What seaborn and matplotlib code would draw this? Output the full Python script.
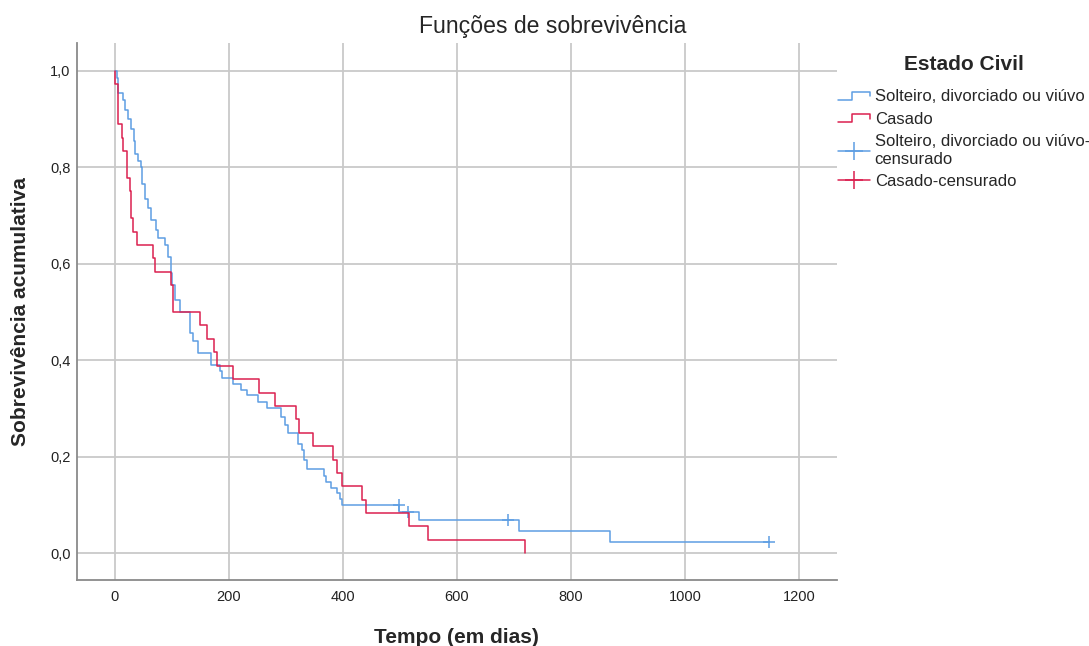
import pandas as pd
import matplotlib
matplotlib.use('Agg')
import matplotlib.pyplot as plt
import seaborn as sns
from matplotlib.lines import Line2D
from matplotlib.legend_handler import HandlerBase

# Curva Kaplan-Meier: Solteiro, divorciado ou viuvo
solteiro_tempo = [0, 3, 6, 15, 18, 23, 29, 33, 35, 40, 46, 48, 53, 58, 63, 72, 76, 88, 94,
                  98, 101, 105, 114, 131, 137, 146, 169, 184, 188, 207, 221, 231, 251, 266,
                  292, 298, 304, 322, 328, 332, 337, 366, 371, 379, 389, 395, 399, 499, 534,
                  708, 868, 1147]
solteiro_sobrev = [1.0, 0.985, 0.955, 0.94, 0.92, 0.90, 0.88, 0.855, 0.827, 0.813, 0.80, 0.766,
                   0.735, 0.715, 0.69, 0.67, 0.653, 0.639, 0.615, 0.58, 0.556, 0.525, 0.5, 0.456,
                   0.44, 0.415, 0.39, 0.378, 0.364, 0.35, 0.338, 0.328, 0.313, 0.30, 0.282, 0.265,
                   0.25, 0.227, 0.213, 0.193, 0.175, 0.16, 0.148, 0.134, 0.124, 0.113, 0.10,
                   0.086, 0.068, 0.046, 0.023, 0.023]
solteiro_cens_tempo = [499, 515, 690, 1147]
solteiro_cens_sobrev = [0.100, 0.086, 0.068, 0.023]

# Casado
casado_tempo = [0, 1, 5, 13, 15, 21, 27, 29, 31, 38, 67, 70, 99, 102, 149, 161, 173, 179, 207,
                253, 281, 317, 323, 347, 383, 390, 399, 433, 440, 516, 550, 720]
casado_sobrev = [1.0, 0.972, 0.889, 0.861, 0.833, 0.778, 0.75, 0.694, 0.667, 0.639, 0.611, 0.583,
                 0.556, 0.5, 0.472, 0.444, 0.417, 0.389, 0.361, 0.333, 0.306, 0.278, 0.25, 0.222,
                 0.194, 0.167, 0.139, 0.111, 0.083, 0.056, 0.028, 0.0]

grupos = ['Solteiro, divorciado ou viúvo', 'Casado']
cores = ['#5E9EE3', '#DB2150']

x_ticks = [0, 200, 400, 600, 800, 1000, 1200]
y_ticks = [0.0, 0.2, 0.4, 0.6, 0.8, 1.0]
y_tick_labels = ['0,0', '0,2', '0,4', '0,6', '0,8', '1,0']

df = pd.concat([
    pd.DataFrame({'tempo': solteiro_tempo, 'sobrev': solteiro_sobrev, 'grupo': grupos[0]}),
    pd.DataFrame({'tempo': casado_tempo, 'sobrev': casado_sobrev, 'grupo': grupos[1]}),
], ignore_index=True)

sns.set_style('white')
plt.rcParams['font.family'] = ['Liberation Sans', 'DejaVu Sans']

fig = plt.figure(figsize=(10.89, 6.46), dpi=100)
ax = fig.add_axes([0.0704, 0.1014, 0.6979, 0.832])

sns.lineplot(data=df, x='tempo', y='sobrev', hue='grupo', palette=cores,
             drawstyle='steps-post', estimator=None, sort=False, legend=False,
             linewidth=1.1, ax=ax)
sns.scatterplot(x=solteiro_cens_tempo, y=solteiro_cens_sobrev, marker='+', s=70,
                color=cores[0], linewidth=1.1, legend=False, ax=ax)

ax.set_xlim(-67, 1266)
ax.set_ylim(-0.057, 1.058)
ax.set_xticks(x_ticks)
ax.set_yticks(y_ticks)
ax.set_yticklabels(y_tick_labels)
ax.tick_params(length=0, labelsize=10.5, labelcolor='#222222')
ax.tick_params(axis='x', pad=7)
ax.tick_params(axis='y', pad=4.5)
ax.grid(True, color='#c9c9c9', linewidth=1.3)
ax.set_axisbelow(True)
for s in ['top', 'right']:
    ax.spines[s].set_visible(False)
for s in ['left', 'bottom']:
    ax.spines[s].set_color('#8a8a8a')
    ax.spines[s].set_linewidth(1.3)

ax.set_xlabel('Tempo (em dias)', fontsize=15, fontweight='bold')
ax.set_ylabel('Sobrevivência acumulativa', fontsize=15, fontweight='bold')
ax.xaxis.set_label_coords(0.5, -0.0885)
ax.yaxis.set_label_coords(-0.062, 0.5)

fig.text(553 / 1089, 1 - 26 / 646, 'Funções de sobrevivência', ha='center', va='center',
         fontsize=16.6)


class StepHandler(HandlerBase):
    def create_artists(self, legend, orig_handle, x0, y0, width, height, fontsize, trans):
        xs = [x0, x0 + 0.45 * width, x0 + 0.45 * width, x0 + width, x0 + width]
        ys = [y0 + 0.15 * height, y0 + 0.15 * height, y0 + 0.8 * height,
              y0 + 0.8 * height, y0 + 0.45 * height]
        ln = Line2D(xs, ys, color=orig_handle.get_color(),
                    lw=orig_handle.get_linewidth(), transform=trans)
        return [ln]


h1 = Line2D([], [], color=cores[0], lw=1.1)
h2 = Line2D([], [], color=cores[1], lw=1.1)
h3 = Line2D([], [], color=cores[0], lw=1.1, marker='+', ms=13, mew=1.1)
h4 = Line2D([], [], color=cores[1], lw=1.1, marker='+', ms=13, mew=1.1)
labels = [grupos[0], grupos[1], grupos[0] + '-\ncensurado', grupos[1] + '-censurado']

leg = ax.legend([h1, h2, h3, h4], labels, loc='upper left',
                bbox_to_anchor=(838 / 1089, 1 - 55 / 646), bbox_transform=fig.transFigure,
                frameon=False, fontsize=12, handlelength=1.9, handletextpad=0.3,
                labelspacing=0.45, borderpad=0, borderaxespad=0,
                title='Estado Civil', title_fontproperties={'weight': 'bold', 'size': 15},
                handler_map={h1: StepHandler(), h2: StepHandler()})
leg._legend_box.sep = 11

fig.savefig('out.png', dpi=100)
